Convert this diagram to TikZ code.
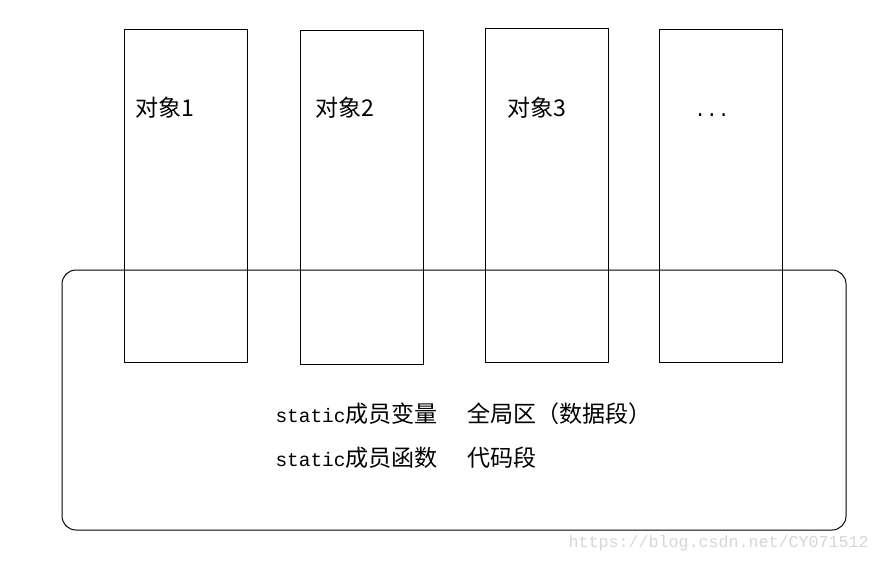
\documentclass[tikz,border=0pt]{standalone}
\usepackage{fontspec}
\setmainfont{Noto Sans CJK SC}
\newfontfamily\monofont{Liberation Mono}
\usepackage{xcolor}
\definecolor{markgray}{RGB}{214,214,214}
\usetikzlibrary{positioning}

\begin{document}
\begin{tikzpicture}[x=0.75pt,y=-0.75pt,line width=0.75pt,
    lbl/.style={inner sep=0pt,anchor=base west,font=\fontsize{17.3}{20}\selectfont}]
        \useasboundingbox (0,0) rectangle (880,563);
        \foreach \x/\t/\b/\xl/\name in {124/30/362/135/对象1,300/31/364/315/对象2,485/29/362/507/对象3}{
            \draw (\x,\t) rectangle (\x+123,\b);
            \node[lbl] (obj\x) at (\xl,117) {\name};}
        \draw (659,30) rectangle (782,362);
        \node[lbl, anchor=base] (objmore) at (712,117) {\monofont\fontsize{14.6}{17}\selectfont ...};
        \draw[rounded corners=10.5pt] (62,270) rectangle (846,530);
       \node[lbl] (var) at (275,422) {{\monofont\fontsize{14.6}{17}\selectfont static}成员变量};
       \node[lbl] (varseg) at (467,422) {全局区（数据段）};
       \node[lbl] (fun) at (275,466) {{\monofont\fontsize{14.6}{17}\selectfont static}成员函数};
       \node[lbl] (funseg) at (467,466) {代码段};
       \node[lbl, text=markgray, font=\monofont\fontsize{12.5}{15}\selectfont] (mark) at (568,547) {https://blog.csdn.net/CY071512};
    \end{tikzpicture}
\end{document}
